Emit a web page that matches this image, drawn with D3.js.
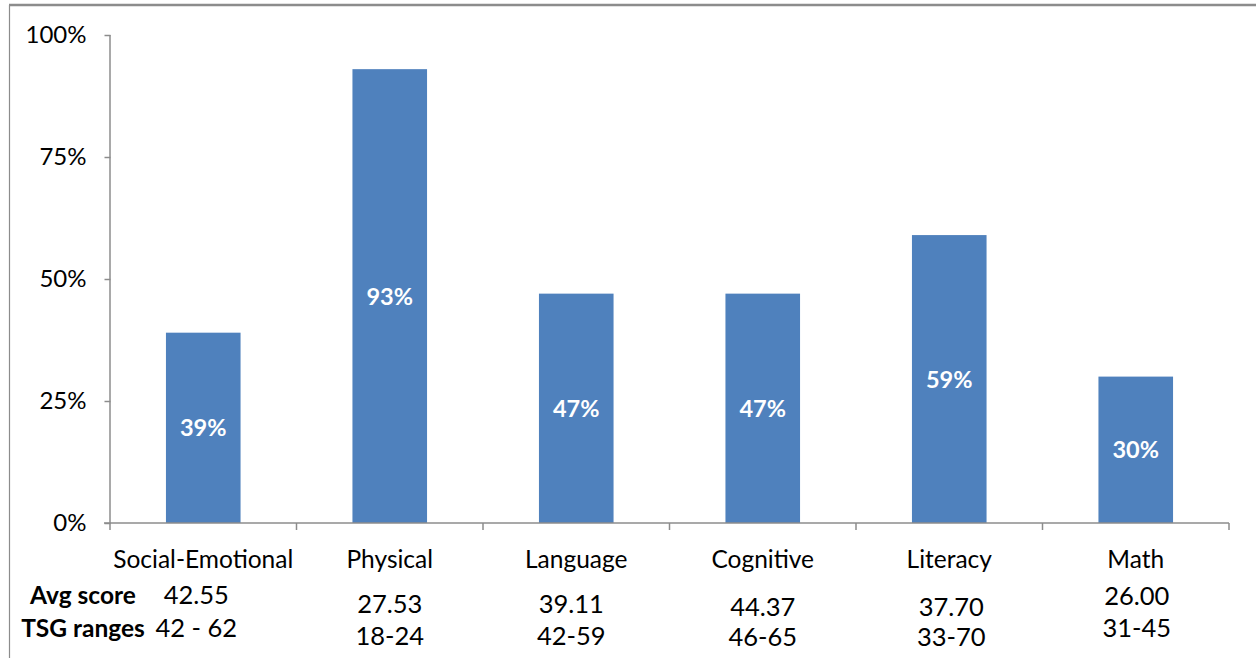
<!DOCTYPE html>
<html><head><meta charset="utf-8">
<script src="https://cdn.jsdelivr.net/npm/d3@7"></script>
<style>body{margin:0;background:#fff;} svg{display:block;} text{font-family:Lato,"Open Sans",sans-serif;}</style>
</head><body>
<svg id="c" width="1256" height="658"></svg>
<script>
const categories = ["Social-Emotional","Physical","Language","Cognitive","Literacy","Math"];
const pctValues = [39,93,47,47,59,30];
const avgScores = ["42.55","27.53","39.11","44.37","37.70","26.00"];
const tsgRanges = ["42 - 62","18-24","42-59","46-65","33-70","31-45"];
const yTicks = [0,25,50,75,100];
const rowLabels = ["Avg score","TSG ranges"];

// layout (not data)
const colDx = [-7,0,-5,0,2,1];
const avgDy = [0,9,9,12,12,1];
const tsgDy = [0,8,8,9,9,0];

const svg = d3.select("#c");
const x = d3.scaleBand().domain(categories).range([110,1229]).paddingInner(0.6).paddingOuter(0.3);
const y = d3.scaleLinear().domain([0,100]).range([523,35]);

// frame
svg.append("line").attr("x1",9).attr("x2",1256).attr("y1",5).attr("y2",5).attr("stroke","#8c8c8c").attr("stroke-width",2.5);
svg.append("line").attr("x1",9.5).attr("x2",9.5).attr("y1",5).attr("y2",658).attr("stroke","#8c8c8c").attr("stroke-width",1.2);

// bars
svg.selectAll("rect.bar").data(pctValues).join("rect")
  .attr("class","bar")
  .attr("x",(d,i)=>x(categories[i]))
  .attr("width",x.bandwidth())
  .attr("y",d=>y(d))
  .attr("height",d=>y(0)-y(d))
  .attr("fill","#4f81bd");

// y axis
const yAxis = d3.axisLeft(y).tickValues(yTicks).tickFormat(d=>d+"%").tickSize(6).tickPadding(18);
const gy = svg.append("g").attr("transform","translate(110.5,0)").call(yAxis);
gy.select(".domain").attr("stroke","#8c8c8c").attr("stroke-width",1.5).attr("d","M-0.5,35V523");
gy.selectAll(".tick line").attr("stroke","#8c8c8c").attr("stroke-width",1.5);
gy.selectAll(".tick text").attr("font-size",24).attr("fill","#000").attr("font-family","Lato");

// x axis
const xAxisScale = d3.scalePoint().domain(d3.range(7)).range([110,1229]);
const gx = svg.append("g").attr("transform","translate(0,523)");
gx.append("line").attr("x1",104).attr("x2",1229).attr("y1",0).attr("y2",0).attr("stroke","#8c8c8c").attr("stroke-width",1.5);
gx.selectAll("line.t").data(d3.range(7)).join("line").attr("class","t")
  .attr("x1",d=>xAxisScale(d)).attr("x2",d=>xAxisScale(d)).attr("y1",0).attr("y2",7)
  .attr("stroke","#8c8c8c").attr("stroke-width",1.5);

// category labels
svg.selectAll("text.cat").data(categories).join("text").attr("class","cat")
  .attr("x",d=>x(d)+x.bandwidth()/2).attr("y",568)
  .attr("text-anchor","middle").attr("font-size",24.5).attr("fill","#000").text(d=>d);

// value labels
svg.selectAll("text.val").data(pctValues).join("text").attr("class","val")
  .attr("x",(d,i)=>x(categories[i])+x.bandwidth()/2)
  .attr("y",d=>(y(d)+y(0))/2+8.5)
  .attr("text-anchor","middle").attr("font-size",23.5).attr("font-weight","bold").attr("fill","#fff")
  .text(d=>d+"%");

// table rows
svg.selectAll("text.row").data(rowLabels).join("text").attr("class","row")
  .attr("x",(d,i)=>i===0?83:83).attr("y",(d,i)=>i===0?604:637)
  .attr("text-anchor","middle").attr("font-size",24.5).attr("font-weight","bold").attr("fill","#000").text(d=>d);

svg.selectAll("text.avg").data(avgScores).join("text").attr("class","avg")
  .attr("x",(d,i)=>x(categories[i])+x.bandwidth()/2+colDx[i]).attr("y",(d,i)=>604+avgDy[i])
  .attr("text-anchor","middle").attr("font-size",25.5).attr("fill","#000").text(d=>d);
svg.selectAll("text.tsg").data(tsgRanges).join("text").attr("class","tsg")
  .attr("x",(d,i)=>x(categories[i])+x.bandwidth()/2+colDx[i]).attr("y",(d,i)=>637+tsgDy[i])
  .attr("text-anchor","middle").attr("font-size",25.5).attr("fill","#000").text(d=>d);
</script>
</body></html>
